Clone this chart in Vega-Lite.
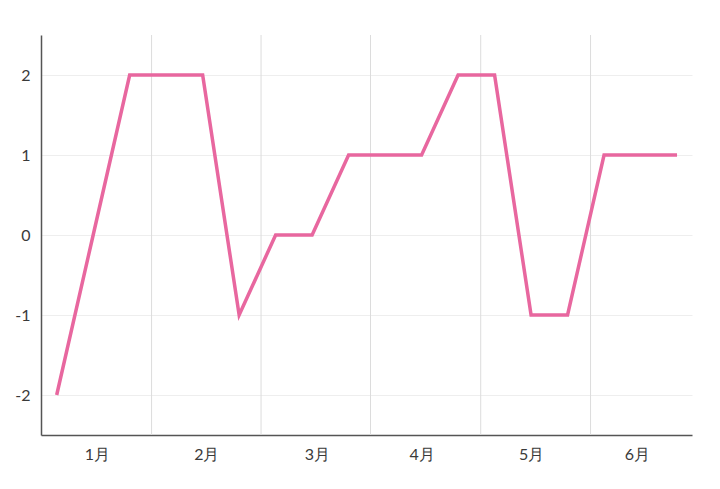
{
  "$schema": "https://vega.github.io/schema/vega-lite/v6.json",
  "width": 651,
  "height": 400,
  "autosize": "none",
  "padding": {"left": 41, "top": 35, "right": 28, "bottom": 54},
  "background": "white",
  "config": {
    "view": {"stroke": null},
    "font": "Lato",
    "axis": {"labelFont": "Lato", "labelFontSize": 16, "labelColor": "#3a3a3a"}
  },
  "datasets": {
    "series": [
      {"i": 0, "v": -2}, {"i": 1, "v": 0}, {"i": 2, "v": 2},
      {"i": 3, "v": 2}, {"i": 4, "v": 2}, {"i": 5, "v": -1},
      {"i": 6, "v": 0}, {"i": 7, "v": 0}, {"i": 8, "v": 1},
      {"i": 9, "v": 1}, {"i": 10, "v": 1}, {"i": 11, "v": 2},
      {"i": 12, "v": 2}, {"i": 13, "v": -1}, {"i": 14, "v": -1},
      {"i": 15, "v": 1}, {"i": 16, "v": 1}, {"i": 17, "v": 1}
    ],
    "bounds": [{"b": 2.6}, {"b": 5.6}, {"b": 8.6}, {"b": 11.62}, {"b": 14.63}]
  },
  "layer": [
    {
      "data": {"name": "bounds"},
      "mark": {"type": "rule", "color": "#dcdcdc", "strokeWidth": 1},
      "encoding": {
        "x": {"field": "b", "type": "quantitative", "scale": {"domain": [-0.43, 17.41], "nice": false, "zero": false}}
      }
    },
    {
      "data": {"name": "series"},
      "mark": {"type": "line", "color": "#e8679f", "strokeWidth": 3.5, "strokeJoin": "miter"},
      "encoding": {
        "x": {
          "field": "i", "type": "quantitative",
          "scale": {"domain": [-0.43, 17.41], "nice": false, "zero": false},
          "axis": {
            "title": null,
            "values": [1.1, 4.1, 7.13, 10.0, 13.0, 15.9],
            "labelExpr": "floor(datum.value / 3) + 1 + '月'",
            "grid": false, "ticks": false,
            "domainColor": "#555555", "domainWidth": 1.5,
            "labelPadding": 11
          }
        },
        "y": {
          "field": "v", "type": "quantitative",
          "scale": {"domain": [-2.5, 2.5], "nice": false, "zero": false},
          "axis": {
            "title": null,
            "values": [-2, -1, 0, 1, 2],
            "labelExpr": "'' + datum.value",
            "grid": true, "gridColor": "#eeeeee",
            "ticks": false,
            "domainColor": "#555555", "domainWidth": 1.5,
            "labelPadding": 11
          }
        }
      }
    }
  ]
}
